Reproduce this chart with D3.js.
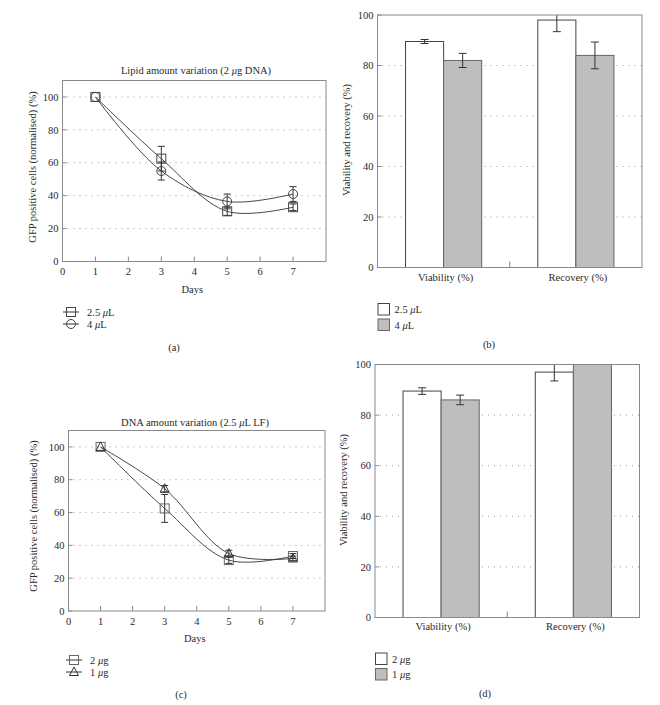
<!DOCTYPE html>
<html><head><meta charset="utf-8">
<script src="https://cdn.jsdelivr.net/npm/d3@7"></script>
<style>
body{margin:0;background:#fff;}
text{font-family:"Liberation Serif","DejaVu Serif",serif;fill:#2a2a2a;}
</style></head>
<body><svg id="c" width="660" height="705"></svg>
<script>
// ---- data ----
const days = [1, 3, 5, 7];
const xTicks = [0, 1, 2, 3, 4, 5, 6, 7];
const yTicks = [0, 20, 40, 60, 80, 100];

const lipid25 = [100, 62.5, 30.5, 33];
const lipid25Err = [0.5, 7.5, 2.5, 2];
const lipid4 = [100, 55, 36.5, 41];
const lipid4Err = [0.5, 5.5, 4.5, 4.5];

const dna2 = [100, 62.5, 31, 33.5];
const dna2Err = [0.5, 8.5, 2, 1.5];
const dna1 = [100, 74.5, 35, 32];
const dna1Err = [0.5, 2, 2, 1.5];

const barCategories = ["Viability (%)", "Recovery (%)"];
const lipidBar25 = [89.5, 98];
const lipidBar25Err = [0.8, 4.6];
const lipidBar4 = [82, 84];
const lipidBar4Err = [2.8, 5.3];
const dnaBar2 = [89.5, 97];
const dnaBar2Err = [1.3, 3.5];
const dnaBar1 = [86, 100];
const dnaBar1Err = [1.9, 0];

const svg = d3.select("#c");
const FRAME = "#8a8a8a", LINE = "#333", GRID = "#9a9a9a";

function mu(sel, before, after) {
  sel.append("tspan").text(before);
  sel.append("tspan").attr("font-style", "italic").text("\u03bc");
  sel.append("tspan").text(after);
}

function marker(g, type, cx, cy, color) {
  const s = 4.5;
  if (type === "square") {
    g.append("rect").attr("x", cx - s).attr("y", cy - s).attr("width", 2 * s).attr("height", 2 * s)
      .attr("fill", "none").attr("stroke", color).attr("stroke-width", 1);
  } else if (type === "circle") {
    g.append("circle").attr("cx", cx).attr("cy", cy).attr("r", s)
      .attr("fill", "none").attr("stroke", color).attr("stroke-width", 1);
  } else {
    g.append("path").attr("d", `M${cx},${cy - s - 0.5}L${cx + s},${cy + s - 1}L${cx - s},${cy + s - 1}Z`)
      .attr("fill", "none").attr("stroke", color).attr("stroke-width", 1);
  }
}

function linePanel(o) {
  const g = svg.append("g");
  const x = d3.scaleLinear().domain([0, 8]).range([o.left, o.right]);
  const y = d3.scaleLinear().domain([0, 110]).range([o.bottom, o.top]);
  yTicks.filter(t => t > 0).forEach(t => {
    g.append("line").attr("x1", o.left + 5).attr("x2", o.right).attr("y1", y(t)).attr("y2", y(t))
      .attr("stroke", GRID).attr("stroke-dasharray", "1,5").attr("stroke-width", 1);
  });
  yTicks.forEach(t => {
    g.append("line").attr("x1", o.left).attr("x2", o.left + 4).attr("y1", y(t)).attr("y2", y(t)).attr("stroke", FRAME);
    g.append("text").attr("x", o.left - 4).attr("y", y(t)).attr("dy", "0.35em").attr("text-anchor", "end")
      .attr("font-size", 10.5).text(t);
  });
  xTicks.forEach(t => {
    g.append("line").attr("x1", x(t)).attr("x2", x(t)).attr("y1", o.bottom).attr("y2", o.bottom - 5).attr("stroke", FRAME);
    g.append("text").attr("x", x(t)).attr("y", o.bottom + 10).attr("dy", "0.35em").attr("text-anchor", "middle")
      .attr("font-size", 10.5).text(t);
  });
  g.append("rect").attr("x", o.left).attr("y", o.top).attr("width", o.right - o.left).attr("height", o.bottom - o.top)
    .attr("fill", "none").attr("stroke", FRAME).attr("stroke-width", 1);
  o.series.forEach(s => {
    const pts = days.map((d, i) => [x(d), y(s.values[i])]);
    g.append("path").attr("d", d3.line().curve(d3.curveCatmullRom.alpha(0.5))(pts))
      .attr("fill", "none").attr("stroke", LINE).attr("stroke-width", 0.9);
    days.forEach((d, i) => {
      const v = s.values[i], e = s.err[i];
      if (e > 0.6) {
        g.append("line").attr("x1", x(d)).attr("x2", x(d)).attr("y1", y(v - e)).attr("y2", y(v + e)).attr("stroke", LINE);
        [v - e, v + e].forEach(yy => g.append("line").attr("x1", x(d) - 3.5).attr("x2", x(d) + 3.5)
          .attr("y1", y(yy)).attr("y2", y(yy)).attr("stroke", LINE));
      }
      marker(g, s.type, x(d), y(v), s.color);
    });
  });
  const tt = g.append("text").attr("x", o.titleX).attr("y", o.titleY).attr("dy", "0.35em").attr("text-anchor", "middle").attr("font-size", 10.5);
  mu(tt, o.title[0], o.title[1]);
  g.append("text").attr("x", (o.left + o.right) / 2 - 2).attr("y", o.daysY).attr("dy", "0.35em").attr("text-anchor", "middle")
    .attr("font-size", 10.5).text("Days");
  g.append("text").attr("transform", `translate(${o.ylabX},${o.ylabY}) rotate(-90)`).attr("dy", "0.35em")
    .attr("text-anchor", "middle").attr("font-size", 10.5).text("GFP positive cells (normalised) (%)");
  o.series.forEach((s, i) => {
    const ly = o.legY + i * 12;
    g.append("line").attr("x1", o.legX - 8).attr("x2", o.legX + 8).attr("y1", ly).attr("y2", ly).attr("stroke", LINE);
    marker(g, s.type, o.legX, ly, s.color);
    const t = g.append("text").attr("x", o.legX + 16).attr("y", ly).attr("dy", "0.35em").attr("font-size", 10.5);
    mu(t, s.label[0], s.label[1]);
  });
  g.append("text").attr("x", o.tagX).attr("y", o.tagY).attr("dy", "0.35em").attr("text-anchor", "middle")
    .attr("font-size", 10.5).text(o.tag);
}

function barPanel(o) {
  const g = svg.append("g");
  const x = d3.scaleBand().domain(barCategories).range([o.left, o.right]).padding(0);
  const y = d3.scaleLinear().domain([0, 100]).range([o.bottom, o.top]);
  const bw = x.step() * 0.288;
  const clip = "clip" + o.tag.replace(/\W/g, "");
  g.append("clipPath").attr("id", clip).append("rect").attr("x", o.left).attr("y", o.top)
    .attr("width", o.right - o.left).attr("height", o.bottom - o.top);
  yTicks.filter(t => t > 0 && t < 100).forEach(t => {
    g.append("line").attr("x1", o.left + 5).attr("x2", o.right).attr("y1", y(t)).attr("y2", y(t))
      .attr("stroke", GRID).attr("stroke-dasharray", "1,5");
  });
  yTicks.forEach(t => {
    g.append("line").attr("x1", o.left).attr("x2", o.left + 4).attr("y1", y(t)).attr("y2", y(t)).attr("stroke", FRAME);
    g.append("text").attr("x", o.left - 4).attr("y", y(t)).attr("dy", "0.35em").attr("text-anchor", "end")
      .attr("font-size", 10.5).text(t);
  });
  const mid = (o.left + o.right) / 2;
  g.append("line").attr("x1", mid).attr("x2", mid).attr("y1", o.bottom).attr("y2", o.bottom - 6).attr("stroke", FRAME);
  const pg = g.append("g").attr("clip-path", `url(#${clip})`);
  o.series.forEach((s, si) => {
    barCategories.forEach((c, i) => {
      const cx = x(c) + x.bandwidth() / 2;
      const x0 = si === 0 ? cx - bw : cx;
      const v = s.values[i];
      pg.append("rect").attr("x", x0).attr("y", y(v)).attr("width", bw).attr("height", o.bottom - y(v))
        .attr("fill", s.fill).attr("stroke", s.stroke).attr("stroke-width", 1);
    });
  });
  o.series.forEach((s, si) => {
    barCategories.forEach((c, i) => {
      const cx = x(c) + x.bandwidth() / 2;
      const ex = si === 0 ? cx - bw / 2 : cx + bw / 2;
      const v = s.values[i], e = s.err[i];
      if (e <= 0) return;
      pg.append("line").attr("x1", ex).attr("x2", ex).attr("y1", y(v - e)).attr("y2", y(v + e)).attr("stroke", LINE);
      [v - e, v + e].forEach(yy => pg.append("line").attr("x1", ex - 4).attr("x2", ex + 4)
        .attr("y1", y(yy)).attr("y2", y(yy)).attr("stroke", LINE));
    });
  });
  g.append("rect").attr("x", o.left).attr("y", o.top).attr("width", o.right - o.left).attr("height", o.bottom - o.top)
    .attr("fill", "none").attr("stroke", FRAME);
  barCategories.forEach(c => {
    g.append("text").attr("x", x(c) + x.bandwidth() / 2 + 2).attr("y", o.catY).attr("dy", "0.35em")
      .attr("text-anchor", "middle").attr("font-size", 10.5).text(c);
  });
  g.append("text").attr("transform", `translate(${o.ylabX},${o.ylabY}) rotate(-90)`).attr("dy", "0.35em")
    .attr("text-anchor", "middle").attr("font-size", 10.5).text("Viability and recovery (%)");
  o.series.forEach((s, i) => {
    const ly = o.legY + i * 15.5;
    g.append("rect").attr("x", o.left + 0.5).attr("y", ly).attr("width", 11.5).attr("height", 11.5)
      .attr("fill", s.fill).attr("stroke", s.stroke);
    const t = g.append("text").attr("x", o.left + 17).attr("y", ly + 6).attr("dy", "0.35em").attr("font-size", 10.5);
    mu(t, s.label[0], s.label[1]);
  });
  g.append("text").attr("x", o.tagX).attr("y", o.tagY).attr("dy", "0.35em").attr("text-anchor", "middle")
    .attr("font-size", 10.5).text(o.tag);
}

linePanel({
  left: 62.5, right: 326, top: 80.5, bottom: 261.5,
  title: ["Lipid amount variation (2 ", "g DNA)"], titleX: 196, titleY: 70,
  daysY: 289, ylabX: 32, ylabY: 167, legX: 71, legY: 312, tag: "(a)", tagX: 174, tagY: 347,
  series: [
    {values: lipid25, err: lipid25Err, type: "square", color: "#444", label: ["2.5 ", "L"]},
    {values: lipid4, err: lipid4Err, type: "circle", color: "#444", label: ["4 ", "L"]}
  ]
});
linePanel({
  left: 68.5, right: 325, top: 430.5, bottom: 611,
  title: ["DNA amount variation (2.5  ", "L LF)"], titleX: 195, titleY: 422.5,
  daysY: 638, ylabX: 33, ylabY: 516, legX: 74, legY: 660, tag: "(c)", tagX: 181, tagY: 694,
  series: [
    {values: dna2, err: dna2Err, type: "square", color: "#666", label: ["2 ", "g"]},
    {values: dna1, err: dna1Err, type: "triangle", color: "#333", label: ["1 ", "g"]}
  ]
});
barPanel({
  left: 377.5, right: 642, top: 15, bottom: 267.5, catY: 277, ylabX: 346, ylabY: 140,
  legY: 303.5, tag: "(b)", tagX: 489, tagY: 344,
  series: [
    {values: lipidBar25, err: lipidBar25Err, fill: "#fff", stroke: "#444", label: ["2.5 ", "L"]},
    {values: lipidBar4, err: lipidBar4Err, fill: "#bebebe", stroke: "#666", label: ["4 ", "L"]}
  ]
});
barPanel({
  left: 375, right: 639.5, top: 364.5, bottom: 617.5, catY: 626.5, ylabX: 343, ylabY: 490,
  legY: 653, tag: "(d)", tagX: 485, tagY: 693,
  series: [
    {values: dnaBar2, err: dnaBar2Err, fill: "#fff", stroke: "#444", label: ["2 ", "g"]},
    {values: dnaBar1, err: dnaBar1Err, fill: "#bebebe", stroke: "#666", label: ["1 ", "g"]}
  ]
});
</script></body></html>
